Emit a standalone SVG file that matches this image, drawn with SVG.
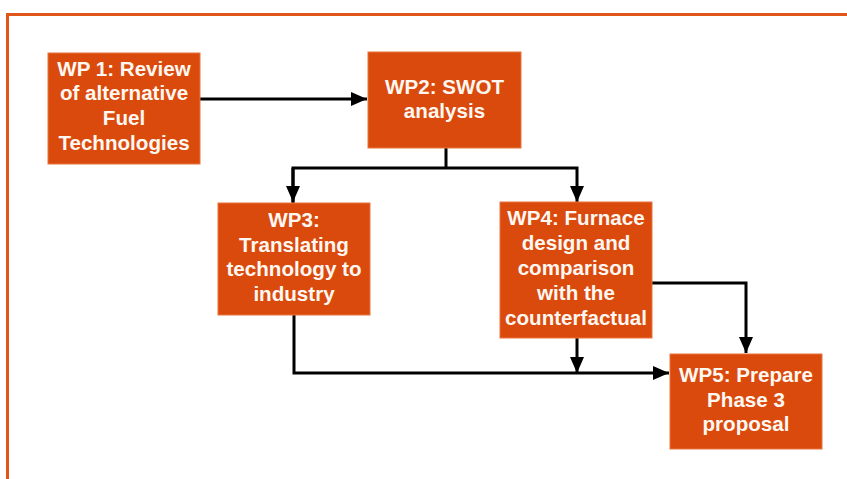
<svg xmlns="http://www.w3.org/2000/svg" width="847" height="479" viewBox="0 0 847 479">
<defs>
<style>
.box{fill:#DA4A0C;stroke:#E8753F;stroke-width:1}
.t{font-family:"Liberation Sans",Arial,sans-serif;font-weight:bold;font-size:20.6px;fill:#FFF8F2;text-anchor:middle}
.c{fill:none;stroke:#000;stroke-width:3}
</style>
<marker id="ah" markerWidth="16" markerHeight="14" refX="16" refY="7" orient="auto" markerUnits="userSpaceOnUse">
<path d="M0,0 L16,7 L0,14 Z" fill="#000"/>
</marker>
</defs>
<rect width="847" height="479" fill="#fff"/>
<rect x="7.5" y="14.5" width="900" height="500" fill="none" stroke="#E0561A" stroke-width="3"/>
<g id="connectors">
<path class="c" d="M200,99 H367" marker-end="url(#ah)"/>
<path class="c" d="M446,148 V168"/>
<path class="c" d="M293,203 V168 H577 V202" marker-end="url(#ah)"/>
<path class="c" d="M293,168 V202" marker-end="url(#ah)"/>
<path class="c" d="M294,315 V373 H669" marker-end="url(#ah)"/>
<path class="c" d="M577,338 V373" marker-end="url(#ah)"/>
<path class="c" d="M652,283 H746 V353" marker-end="url(#ah)"/>
</g>
<g id="wp1">
<rect class="box" x="48" y="53" width="152" height="111"/>
<text class="t" x="124" y="76">WP 1: Review</text>
<text class="t" x="124" y="100">of alternative</text>
<text class="t" x="124" y="125">Fuel</text>
<text class="t" x="124" y="150">Technologies</text>
</g>
<g id="wp2">
<rect class="box" x="368" y="52" width="153" height="96"/>
<text class="t" x="444.5" y="94">WP2: SWOT</text>
<text class="t" x="444.5" y="118">analysis</text>
</g>
<g id="wp3">
<rect class="box" x="218" y="203" width="152" height="112"/>
<text class="t" x="294" y="227">WP3:</text>
<text class="t" x="294" y="252">Translating</text>
<text class="t" x="294" y="276">technology to</text>
<text class="t" x="294" y="301">industry</text>
</g>
<g id="wp4">
<rect class="box" x="500" y="202" width="152" height="136"/>
<text class="t" x="576" y="225">WP4: Furnace</text>
<text class="t" x="576" y="250">design and</text>
<text class="t" x="576" y="275">comparison</text>
<text class="t" x="576" y="300">with the</text>
<text class="t" x="576" y="325">counterfactual</text>
</g>
<g id="wp5">
<rect class="box" x="670" y="354" width="152" height="95"/>
<text class="t" x="746" y="382">WP5: Prepare</text>
<text class="t" x="746" y="407">Phase 3</text>
<text class="t" x="746" y="431">proposal</text>
</g>
</svg>
